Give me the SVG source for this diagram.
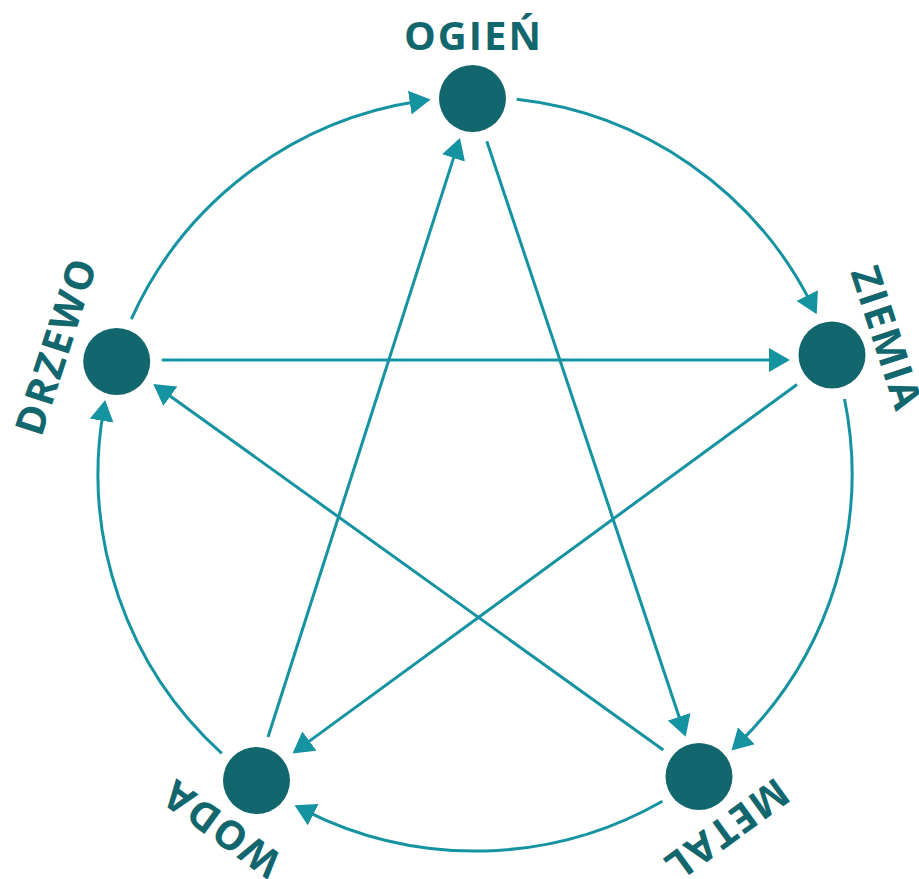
<svg xmlns="http://www.w3.org/2000/svg" width="919" height="879" viewBox="0 0 919 879">
<style>
.node{fill:#12666e}
.lbl{font-family:"Open Sans","Noto Sans",sans-serif;font-weight:700;font-size:40px;letter-spacing:2px;fill:#12666e;text-anchor:middle}
.ln{fill:none;stroke:#1593a1;stroke-width:3}
</style>
<defs>
<marker id="ah" markerUnits="userSpaceOnUse" viewBox="0 0 21 24" markerWidth="21" markerHeight="24" refX="9" refY="12" orient="auto">
<path d="M0,0 L21,12 L0,24 z" fill="#1593a1"/>
</marker>
</defs>
<g id="connectors">
<path class="ln" marker-end="url(#ah)" d="M131.3,319.1 A377,377 0 0 1 418.7,101.2"/>
<path class="ln" marker-end="url(#ah)" d="M516.7,99.3 A377,377 0 0 1 811.3,303.6"/>
<path class="ln" marker-end="url(#ah)" d="M844.5,399 A377,377 0 0 1 740,742.1"/>
<path class="ln" marker-end="url(#ah)" d="M662.4,801.2 A377,377 0 0 1 305.2,810.6"/>
<path class="ln" marker-end="url(#ah)" d="M221.8,753.3 A377,377 0 0 1 103.2,411.8"/>
<path class="ln" marker-end="url(#ah)" d="M486.8,141.2 L681.9,725.3"/>
<path class="ln" marker-end="url(#ah)" d="M797,384.5 L302.2,746.4"/>
<path class="ln" marker-end="url(#ah)" d="M663.3,750 L163.05,391"/>
<path class="ln" marker-end="url(#ah)" d="M268,737 L456.3,149.4"/>
<path class="ln" marker-end="url(#ah)" d="M161.7,360 L778,360"/>
</g>
<g id="ogien"><circle class="node" cx="472.5" cy="98.5" r="33.5"/><text class="lbl" transform="translate(473.5,35.5)" y="14.3">OGIEŃ</text></g>
<g id="ziemia"><circle class="node" cx="832" cy="355" r="33.5"/><text class="lbl" transform="translate(887,338.5) rotate(72)" y="14.3">ZIEMIA</text></g>
<g id="metal"><circle class="node" cx="699" cy="776.5" r="33.5"/><text class="lbl" transform="translate(726.5,830) rotate(144)" y="14.3">METAL</text></g>
<g id="woda"><circle class="node" cx="256.5" cy="780.5" r="33.5"/><text class="lbl" transform="translate(221,828.5) rotate(216)" y="14.3">WODA</text></g>
<g id="drzewo"><circle class="node" cx="116.7" cy="361.5" r="33.5"/><text class="lbl" transform="translate(56,346) rotate(288)" y="14.3">DRZEWO</text></g>
</svg>
